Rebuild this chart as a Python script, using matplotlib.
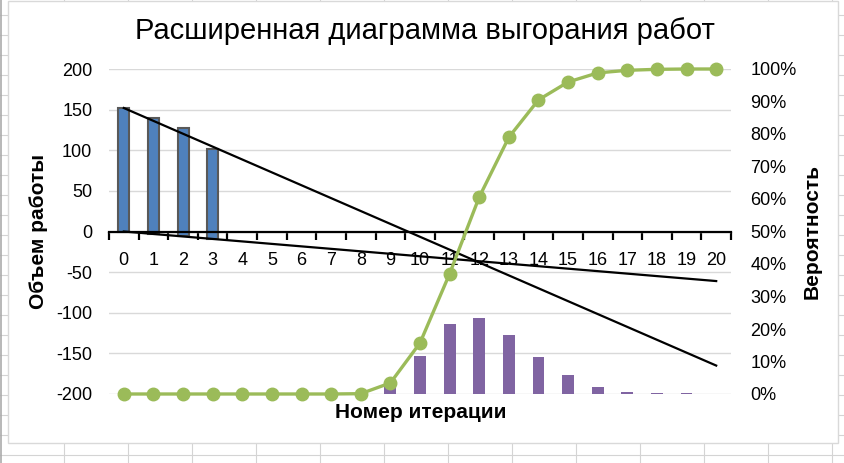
import matplotlib
matplotlib.use("Agg")
import matplotlib.pyplot as plt
from matplotlib.lines import Line2D
from matplotlib.patches import Rectangle
from matplotlib.ticker import FuncFormatter, FixedLocator
import numpy as np

plt.rcParams['font.family'] = ['Liberation Sans', 'DejaVu Sans']
plt.rcParams['axes.unicode_minus'] = False

# ---- data ----
iterations = list(range(0, 21))
work_iters = [0, 1, 2, 3]
work_top = [152, 140, 127, 102]
work_bottom = [0, -3, -6, -9]
prob_bar_height = [0, 0, 0, 0, 0, 0, 0, 0, 0, 16, 47, 86, 94, 73, 45, 23, 9, 3, 1.2, 0.8, 0.6]
prob_baseline = -200
cum_prob = [0, 0, 0, 0, 0, 0, 0, 0, 0.1, 3.4, 15.7, 37, 60.6, 79, 90.5, 96, 98.8, 99.6, 99.9, 100, 100]
trend_fast_x = [0, 20]
trend_fast_y = [152, -165]
trend_slow_x = [0, 20]
trend_slow_y = [0, -61]
left_ticks = [-200, -150, -100, -50, 0, 50, 100, 150, 200]
right_ticks = [0, 10, 20, 30, 40, 50, 60, 70, 80, 90, 100]

W, H = 845, 463
fig = plt.figure(figsize=(W / 100, H / 100), dpi=100)
fig.patch.set_facecolor('white')

# spreadsheet background
grid_c = '#D4D4D4'
for y in range(15, H, 20):
    fig.add_artist(Line2D([0, 1], [1 - y / H, 1 - y / H], color=grid_c, lw=0.8, zorder=-3))
for x in range(64, W, 64):
    fig.add_artist(Line2D([x / W, x / W], [0, 1], color=grid_c, lw=0.8, zorder=-3))
fig.add_artist(Line2D([1.5 / W, 1.5 / W], [0, 1], color='#ABABAB', lw=1.2, zorder=-3))
fig.add_artist(Rectangle((8 / W, 1 - 443 / H), (838 - 8) / W, (443 - 1) / H,
                         facecolor='white', edgecolor='#D9D9D9', lw=1.0, zorder=-2,
                         transform=fig.transFigure))

ax = fig.add_axes([109 / W, 69 / H, 622 / W, 325 / H])
ax.set_facecolor('none')
ax.set_xlim(-0.5, 20.5)
ax.set_ylim(-200, 200)

# gridlines
ax.set_yticks(left_ticks)
ax.yaxis.grid(True, color='#D9D9D9', lw=1.0)
ax.set_axisbelow(True)

# bars
ax.bar(work_iters, np.array(work_top) - np.array(work_bottom), bottom=work_bottom,
       width=0.37, color='#4F81BD', edgecolor='#595959', lw=1.5, zorder=2)
ax.bar(iterations, prob_bar_height, bottom=prob_baseline, width=0.4,
       color='#8064A2', edgecolor='none', zorder=2)

# trend lines
ax.plot(trend_fast_x, trend_fast_y, color='black', lw=1.6, zorder=3)
ax.plot(trend_slow_x, trend_slow_y, color='black', lw=1.6, zorder=3)

# spines / axes
for s in ['left', 'right', 'top']:
    ax.spines[s].set_visible(False)
ax.spines['bottom'].set_position(('data', 0))
ax.spines['bottom'].set_color('black')
ax.spines['bottom'].set_linewidth(1.6)
ax.spines['bottom'].set_zorder(2.5)
ax.set_xticks(iterations)
ax.set_xticklabels([str(i) for i in iterations])
ax.xaxis.set_minor_locator(FixedLocator(np.arange(-0.5, 21, 1)))
ax.tick_params(axis='x', which='major', length=0, pad=15, labelsize=13)
ax.tick_params(axis='x', which='minor', length=6, width=1.6, direction='out', color='black')
ax.tick_params(axis='y', length=0, pad=12, labelsize=13)
ax.set_ylabel('Объем работы', fontsize=15, fontweight='bold', labelpad=6)

# secondary axis
ax2 = ax.twinx()
ax2.set_ylim(0, 100)
ax2.set_yticks(right_ticks)
ax2.yaxis.set_major_formatter(FuncFormatter(lambda v, p: f'{int(v)}%'))
for s in ['left', 'right', 'top', 'bottom']:
    ax2.spines[s].set_visible(False)
ax2.tick_params(axis='y', length=0, pad=14, labelsize=13)
ax2.plot(iterations, cum_prob, color='#9BBB59', lw=2.4, marker='o', markersize=9,
         zorder=4, clip_on=False)
ax2.set_ylabel('Вероятность', fontsize=15, fontweight='bold', labelpad=4)

fig.text(421 / W, 1 - 412 / H, 'Номер итерации', fontsize=15, fontweight='bold',
         ha='center', va='center')
fig.text(425 / W, 1 - 31 / H, 'Расширенная диаграмма выгорания работ', fontsize=21,
         ha='center', va='center')

fig.savefig('out.png', dpi=100, facecolor=fig.get_facecolor())
